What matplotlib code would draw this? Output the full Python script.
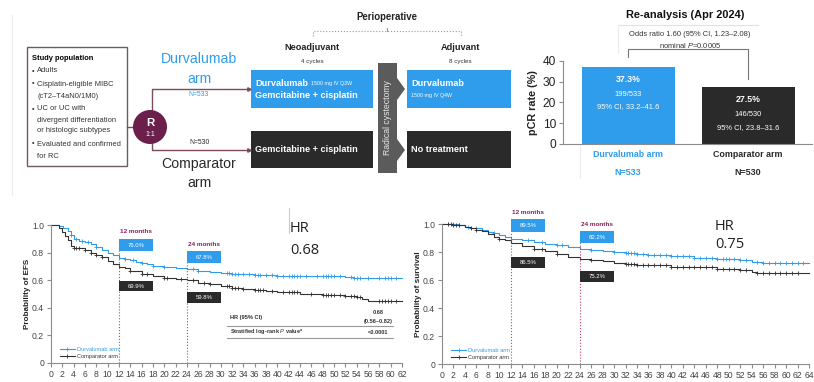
import numpy as np
import matplotlib
matplotlib.use('Agg')
import matplotlib.pyplot as plt
from matplotlib import font_manager as fm
from matplotlib.patches import Rectangle, Polygon, Circle
from matplotlib.lines import Line2D

W, H = 814, 382

# narrow face if we have it, otherwise squeeze the regular one
try:
    fm.findfont('Liberation Sans Narrow', fallback_to_default=False)
    FONT, K = 'Liberation Sans Narrow', 1.0
except ValueError:
    FONT, K = 'Liberation Sans', 0.82

plt.rcParams['font.family'] = [FONT, 'DejaVu Sans']
plt.rcParams['mathtext.fontset'] = 'custom'
plt.rcParams['mathtext.rm'] = FONT
plt.rcParams['mathtext.it'] = FONT + ':italic'


def fs(x):
    return x * K


BLUE = '#2f9cec'
DARK = '#2a2a2a'
PURPLE = '#8a1f5c'
GRID = '#8c8c8c'

# ---- pCR bar data ----
arms = ['Durvalumab arm', 'Comparator arm']
arm_n = [533, 530]
pcr_rate = [37.3, 27.5]
pcr_count = ['199/533', '146/530']
pcr_ci = ['95% CI, 33.2–41.6', '95% CI, 23.8–31.6']

# ---- EFS curves (months, probability) ----
efs_durva_t = [0, 1.5, 2.2, 3, 3.5, 4, 5, 6, 7, 8, 9, 10, 11, 12, 13, 14, 15, 16, 17, 18,
               20, 22, 24, 26, 28, 30, 32, 36, 40, 46, 52, 53.5, 62]
efs_durva_s = [1.0, .99, .98, .96, .93, .895, .885, .875, .86, .84, .82, .80, .78, .760, .755,
               .745, .735, .725, .715, .705, .695, .688, .678, .67, .66, .65, .642, .636, .632,
               .628, .625, .613, .613]
efs_comp_t = [0, 1.5, 2, 2.5, 3, 3.5, 4, 6, 7, 8, 9, 10, 11, 12, 13, 14, 16, 18, 20, 22, 24,
              26, 28, 30, 32, 34, 36, 38, 40, 44, 48, 52, 54, 55, 56, 62]
efs_comp_s = [1.0, .98, .95, .92, .89, .85, .83, .82, .80, .785, .765, .742, .72, .699, .685,
              .67, .648, .627, .615, .608, .598, .583, .57, .555, .545, .536, .53, .524, .512,
              .50, .49, .486, .476, .465, .452, .452]

# ---- OS curves ----
os_durva_t = [0, 3, 4, 5, 6, 7, 8, 9, 10, 11, 12, 14, 16, 18, 20, 22, 24, 26, 28, 30, 32, 34,
              36, 40, 44, 48, 52, 54, 56, 64]
os_durva_s = [1.0, .99, .98, .975, .97, .96, .945, .935, .925, .91, .895, .885, .872, .86, .85,
              .835, .822, .816, .81, .803, .795, .788, .78, .77, .76, .75, .742, .73, .722, .722]
os_comp_t = [0, 2, 3, 4, 5, 6, 7, 8, 9, 10, 11, 12, 14, 16, 18, 20, 22, 24, 26, 28, 30, 32,
             34, 36, 40, 44, 48, 52, 54, 55, 64]
os_comp_s = [1.0, .995, .99, .98, .97, .96, .95, .93, .91, .895, .885, .865, .845, .825, .81,
             .785, .765, .752, .745, .735, .725, .715, .71, .705, .695, .69, .68, .672, .66,
             .65, .648]

# censoring times
efs_durva_cens = [3.5, 4.5, 5.5, 6.5, 8, 13, 14.5, 16, 18, 20, 25, 26, 31, 31.5, 32, 32.5, 33,
                  34, 35, 36, 36.5, 37, 38, 39, 40, 41, 42, 42.5, 43, 43.5, 44, 45, 47, 48,
                  48.5, 49, 49.5, 50, 51, 53, 53.5, 54, 54.5, 56, 58, 59, 59.5, 60, 61]
efs_comp_cens = [4, 4.5, 5, 6, 7, 8, 9, 14, 16, 17, 20, 20.5, 23, 25, 27, 28, 31, 31.5, 32,
                 32.5, 33, 34, 36, 36.5, 37, 37.5, 39, 41, 42, 42.5, 43, 43.5, 46, 48, 48.5,
                 49, 49.5, 50, 51, 52, 53, 53.5, 54, 54.5, 58, 58.5, 59, 59.5, 60, 61]
os_durva_cens = [1, 2, 3, 4.5, 6, 9, 15, 17.5, 20, 21, 26, 30, 32, 32.5, 33, 33.5, 34, 35, 36,
                 37, 38, 39, 40, 41, 42, 43, 44, 45, 46, 47, 48, 49, 49.5, 50, 51, 52, 53,
                 55, 56, 57, 58, 59, 60, 61, 62, 63]
os_comp_cens = [1, 1.5, 2, 2.5, 3, 5, 6, 10, 16, 17.5, 20, 26, 32, 32.5, 33, 33.5, 34, 35,
                36, 37, 38, 39, 40, 41, 42, 43, 44, 45, 46, 47, 48, 49, 50, 51, 52, 53, 55,
                56, 57, 58, 59, 60, 61, 62]

landmarks = [12, 24]
efs_lm_durva = [0.760, 0.678]
efs_lm_comp = [0.699, 0.598]
os_lm_durva = [0.895, 0.822]
os_lm_comp = [0.865, 0.752]


def px_axes(fig, x0, y0, x1, y1):
    return fig.add_axes([x0 / W, 1 - y1 / H, (x1 - x0) / W, (y1 - y0) / H])


def step_at(t, s, x):
    i = np.searchsorted(t, x, side='right') - 1
    return np.asarray(s)[i]


fig = plt.figure(figsize=(W / 100, H / 100), dpi=100)

# full-figure layer for the schema and free text
ov = fig.add_axes([0, 0, 1, 1])
ov.set_xlim(0, W)
ov.set_ylim(H, 0)
ov.axis('off')

ov.plot([12, 12], [15, 195], color='#ececec', lw=0.8)

# study population box
ov.add_patch(Rectangle((27, 47), 100, 119, fc='white', ec='#6e5a60', lw=1))
ov.text(32, 58, 'Study population', fontsize=fs(6.6), fontweight='bold', va='center')
bullets = [(71, '•', 'Adults'), (84, '•', 'Cisplatin-eligible MIBC'), (96, '', '(cT2–T4aN0/1M0)'),
           (109, '•', 'UC or UC with'), (120, '', 'divergent differentiation'),
           (131, '', 'or histologic subtypes'), (144, '•', 'Evaluated and confirmed'),
           (156, '', 'for RC')]
for y, b, s in bullets:
    if b:
        ov.text(32, y, b, fontsize=fs(6.4), va='center', color='#333')
    ov.text(37, y, s, fontsize=fs(6.6), va='center', color='#333')

# randomisation
LINE = '#7b4b5e'
ov.plot([127, 140], [127, 127], color=LINE, lw=1)
ov.plot([152, 152, 249], [127, 89, 89], color=LINE, lw=1)
ov.plot([152, 152, 249], [127, 150, 150], color=LINE, lw=1)
ov.plot([249], [89], marker='>', ms=2.5, color=LINE)
ov.plot([249], [150], marker='>', ms=2.5, color=LINE)
ov.add_patch(Circle((150, 127), 17, fc='#6b1f4b', ec='none', zorder=3))
ov.text(150, 123, 'R', color='white', fontsize=fs(10), fontweight='bold', ha='center',
        va='center', zorder=4)
ov.text(150, 134, '1:1', color='white', fontsize=5, ha='center', va='center', zorder=4)

ov.text(199, 59, 'Durvalumab', color=BLUE, fontsize=fs(12.4), ha='center', va='center')
ov.text(199, 79, 'arm', color=BLUE, fontsize=fs(12.4), ha='center', va='center')
ov.text(199, 95, f'N={arm_n[0]}', color=BLUE, fontsize=fs(6), ha='center', va='center')
ov.text(199, 143, f'N={arm_n[1]}', color=DARK, fontsize=fs(6), ha='center', va='center')
ov.text(199, 164, 'Comparator', color=DARK, fontsize=fs(12.4), ha='center', va='center')
ov.text(199, 183, 'arm', color=DARK, fontsize=fs(12.4), ha='center', va='center')

# treatment boxes
ov.add_patch(Rectangle((251, 70), 122, 38, fc=BLUE, ec='none'))
ov.add_patch(Rectangle((251, 131), 122, 37, fc=DARK, ec='none'))
ov.add_patch(Rectangle((407, 70), 104, 38, fc=BLUE, ec='none'))
ov.add_patch(Rectangle((407, 131), 104, 37, fc=DARK, ec='none'))

t1 = ov.text(255, 83, 'Durvalumab', color='white', fontsize=fs(8), fontweight='bold', va='center')
ov.annotate('1500 mg IV Q3W', xy=(1, 0.45), xycoords=t1, xytext=(2.5, 0),
            textcoords='offset points', color='white', fontsize=fs(4.6), va='center')
ov.text(255, 96, 'Gemcitabine + cisplatin', color='white', fontsize=fs(8), fontweight='bold',
        va='center')
ov.text(255, 150, 'Gemcitabine + cisplatin', color='white', fontsize=fs(8), fontweight='bold',
        va='center')
ov.text(411, 84, 'Durvalumab', color='white', fontsize=fs(8), fontweight='bold', va='center')
ov.text(411, 95, '1500 mg IV Q4W', color='white', fontsize=fs(4.6), va='center')
ov.text(411, 150, 'No treatment', color='white', fontsize=fs(8), fontweight='bold', va='center')

# surgery chevron
ov.add_patch(Polygon([(378, 63), (397, 63), (397, 78), (405, 89), (397, 100), (397, 139),
                      (405, 150), (397, 161), (397, 173), (378, 173)],
                     closed=True, fc='#5b5b5b', ec='none'))
ov.text(388, 118, 'Radical cystectomy', color='#e8e8e8', fontsize=fs(7.6), rotation=90,
        ha='center', va='center')

ov.text(312, 47, 'Neoadjuvant', fontsize=fs(8), fontweight='bold', ha='center', va='center',
        color='#222')
ov.text(312, 62, '4 cycles', fontsize=fs(5.5), ha='center', va='center', color='#333')
ov.text(460, 47, 'Adjuvant', fontsize=fs(8), fontweight='bold', ha='center', va='center',
        color='#222')
ov.text(460, 62, '8 cycles', fontsize=fs(5.5), ha='center', va='center', color='#333')
ov.text(387, 17, 'Perioperative', fontsize=fs(8.5), fontweight='bold', ha='center',
        va='center', color='#222')
ov.plot([313, 313, 461, 461], [36, 31, 31, 36], color='#999', lw=0.8, ls=':')
ov.plot([387, 387], [31, 28], color='#999', lw=0.8)

# ---- pCR bar chart ----
ov.text(685, 15, 'Re-analysis (Apr 2024)', fontsize=fs(9.7), fontweight='bold', ha='center',
        va='center', color='#111')
ov.plot([618, 758], [25, 25], color='#e2e2e2', lw=0.8)
ov.plot([618, 618], [25, 53], color='#ececec', lw=0.8)
ov.plot([580, 580], [146, 178], color='#ececec', lw=0.8)
ov.text(690, 34, 'Odds ratio 1.60 (95% CI, 1.23–2.08)', fontsize=fs(6.6), ha='center',
        va='center', color='#333')
ov.text(690, 45, r'nominal $\it{P}$=0.0005', fontsize=fs(6.6), ha='center', va='center',
        color='#333')

bx = px_axes(fig, 563, 61, 812, 144)
xpos = np.arange(len(arms))
bx.bar(xpos, pcr_rate, width=0.775, color=[BLUE, DARK])
bx.set_xlim(-0.542, 1.533)
bx.set_ylim(0, 40)
bx.set_yticks([0, 10, 20, 30, 40])
bx.set_xticks([])
bx.tick_params(axis='y', labelsize=8.6, length=3, color=GRID, labelcolor='#222', pad=2)
for sp in ['top', 'right']:
    bx.spines[sp].set_visible(False)
bx.spines['left'].set_color(GRID)
bx.spines['bottom'].set_color(GRID)
bx.set_ylabel('pCR rate (%)', fontsize=fs(9.4), fontweight='bold', color='#222')
bx.yaxis.set_label_coords(-0.1, 0.5)
bx.patch.set_alpha(0)

for i, v in enumerate(pcr_rate):
    bx.text(i, v - 6.1, f'{v}%', color='white', fontsize=fs(7.7), fontweight='bold',
            ha='center', va='center')
    bx.text(i, v - 13.5, pcr_count[i], color='white', fontsize=fs(6.6), ha='center', va='center')
    bx.text(i, v - 19.4, pcr_ci[i], color='white', fontsize=fs(6.6), ha='center', va='center')
    col = BLUE if i == 0 else DARK
    bx.text(i, -5.3, arms[i], color=col, fontsize=fs(7.8), fontweight='bold', ha='center',
            va='center', clip_on=False)
    bx.text(i, -13.5, f'N={arm_n[i]}', color=col, fontsize=fs(7.8), fontweight='bold',
            ha='center', va='center', clip_on=False)

bx.plot([0, 0, 1, 1], [pcr_rate[0] + 4.6, 45.8, 45.8, pcr_rate[1] + 3.8], color='#777',
        lw=0.8, clip_on=False)


# ---- Kaplan-Meier panels ----
def km_panel(rect, xmax, ylabel, curves, cens, lm_durva, lm_comp, lab_y, blue_y, dark_y,
             leg_anchor, ylab_x):
    ax = px_axes(fig, *rect)
    ax.patch.set_alpha(0)
    for (t, s), c_t, col in zip(curves, cens, [BLUE, '#333333']):
        ax.step(t, s, where='post', color=col, lw=0.8, clip_on=False)
        ax.plot(c_t, step_at(t, s, c_t), ls='none', marker='+', ms=3.4, mew=0.6, color=col,
                clip_on=False)
    for k, m in enumerate(landmarks):
        ax.plot([m, m], [0, blue_y[k][1]], color='#c0405a', lw=0.8, ls=':')
        ax.text(m + 3, lab_y[k], f'{m} months', color=PURPLE, fontsize=fs(5.6),
                fontweight='bold', ha='center', va='center', clip_on=False)
        for (y0, y1), val, col in [(blue_y[k], lm_durva[k], BLUE), (dark_y[k], lm_comp[k], DARK)]:
            ax.add_patch(Rectangle((m, y0), 6, y1 - y0, fc=col, ec='none', clip_on=False,
                                   zorder=4))
            ax.text(m + 3, (y0 + y1) / 2, f'{val * 100:.1f}%', color='white', fontsize=fs(5.3),
                    ha='center', va='center', zorder=5)
    ax.set_xlim(0, xmax)
    ax.set_ylim(0, 1.0)
    ax.set_xticks(np.arange(0, xmax + 1, 2))
    ax.set_yticks([0, 0.2, 0.4, 0.6, 0.8, 1.0])
    ax.set_yticklabels(['0', '0.2', '0.4', '0.6', '0.8', '1.0'])
    ax.tick_params(labelsize=6.2, length=3, color=GRID, labelcolor='#444', pad=2)
    for sp in ['top', 'right']:
        ax.spines[sp].set_visible(False)
    ax.spines['left'].set_color(GRID)
    ax.spines['bottom'].set_color(GRID)
    ax.set_ylabel(ylabel, fontsize=fs(7.2), fontweight='bold', color='#222')
    ax.yaxis.set_label_coords(ylab_x, 0.5)
    handles = [Line2D([], [], color=BLUE, lw=0.8, marker='+', ms=3.2, mew=0.6),
               Line2D([], [], color='#333333', lw=0.8, marker='+', ms=3.2, mew=0.6)]
    leg = ax.legend(handles, arms, loc='lower left', bbox_to_anchor=leg_anchor, frameon=False,
                    fontsize=fs(5), handlelength=2.6, handletextpad=0.4, labelspacing=0.25,
                    borderaxespad=0, borderpad=0)
    leg.get_texts()[0].set_color(BLUE)
    leg.get_texts()[1].set_color('#333')
    return ax


km_panel((51, 225, 402, 363), 62, 'Probability of EFS',
         [(efs_durva_t, efs_durva_s), (efs_comp_t, efs_comp_s)],
         [efs_durva_cens, efs_comp_cens], efs_lm_durva, efs_lm_comp,
         [0.95, 0.862], [(0.81, 0.899), (0.725, 0.81)], [(0.52, 0.594), (0.435, 0.514)],
         (0.025, 0.03), -0.057)

km_panel((442, 224, 809, 364), 64, 'Probability of survival',
         [(os_durva_t, os_durva_s), (os_comp_t, os_comp_s)],
         [os_durva_cens, os_comp_cens], os_lm_durva, os_lm_comp,
         [1.08, 1.0], [(0.943, 1.036), (0.864, 0.95)], [(0.686, 0.764), (0.586, 0.664)],
         (0.025, 0.03), -0.055)

# hazard ratio call-outs
ov.plot([289, 289], [208, 233], color='#cccccc', lw=0.8)
for x, y0, y1, hr in [(290, 228, 250, '0.68'), (715, 227, 245, '0.75')]:
    ov.text(x, y0, 'HR', family=['Open Sans', 'DejaVu Sans'], fontsize=10.5, va='center',
            color='#222')
    ov.text(x, y1, hr, family=['Open Sans', 'DejaVu Sans'], fontsize=10.5, va='center',
            color='#222')

# EFS summary table
ov.text(230, 317, 'HR (95% CI)', fontsize=fs(5), fontweight='bold', va='center', color='#333')
ov.text(378, 313, '0.68', fontsize=fs(5), fontweight='bold', ha='center', va='center',
        color='#333')
ov.text(378, 321, '(0.56–0.82)', fontsize=fs(5), fontweight='bold', ha='center', va='center',
        color='#333')
ov.plot([227, 393], [326, 326], color='#999', lw=0.8)
ov.text(230, 332, r'Stratified log-rank $\it{P}$ value*', fontsize=fs(5), fontweight='bold',
        va='center', color='#333')
ov.text(378, 332, '<0.0001', fontsize=fs(5), fontweight='bold', ha='center', va='center',
        color='#333')
ov.plot([227, 393], [338, 338], color='#999', lw=0.8)

fig.savefig('out.png', dpi=100)
